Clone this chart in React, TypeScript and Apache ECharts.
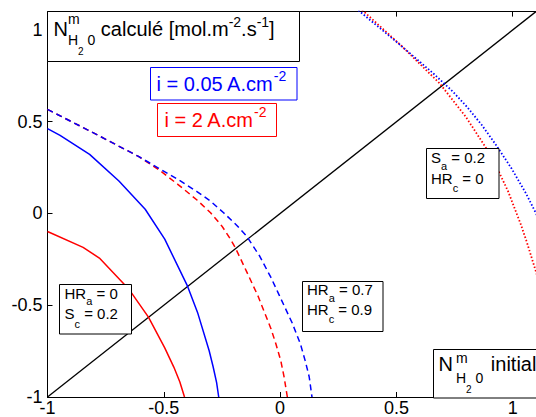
import React, { useEffect, useRef } from 'react';
import * as echarts from 'echarts';

// ---- axes ----
const X_MIN = -1;
const X_MAX = 1.1;
const Y_MIN = -1;
const Y_MAX = 1.1;
const TICK = 0.5;

// ---- series data (x, y) ----
const identityLine: number[][] = [[-1, -1], [1.1, 1.1]];

const blueSolid: number[][] = [
  [-1, 0.462], [-0.946, 0.426], [-0.819, 0.322], [-0.693, 0.177], [-0.58, 0.023],
  [-0.496, -0.14], [-0.398, -0.396], [-0.355, -0.539], [-0.305, -0.748], [-0.288, -0.835],
  [-0.273, -0.922], [-0.264, -1],
];
const redSolid: number[][] = [
  [-1, -0.098], [-0.847, -0.185], [-0.777, -0.243], [-0.651, -0.411], [-0.566, -0.565],
  [-0.496, -0.732], [-0.457, -0.837], [-0.431, -0.918], [-0.411, -1],
];
const blueDashed: number[][] = [
  [-1, 0.567], [-0.819, 0.45], [-0.609, 0.311], [-0.44, 0.186], [-0.356, 0.118], [-0.299, 0.067],
  [-0.243, 0.004], [-0.187, -0.064], [-0.145, -0.122], [-0.089, -0.23], [-0.039, -0.35],
  [-0.004, -0.445], [0.052, -0.597], [0.087, -0.71], [0.108, -0.803], [0.125, -0.89], [0.137, -1],
];
const redDashed: number[][] = [
  [-1, 0.567], [-0.819, 0.45], [-0.609, 0.311], [-0.524, 0.241], [-0.44, 0.159], [-0.356, 0.072],
  [-0.299, 0.004], [-0.25, -0.069], [-0.215, -0.137], [-0.194, -0.183], [-0.145, -0.314],
  [-0.095, -0.45], [-0.039, -0.629], [-0.018, -0.711], [0.003, -0.803], [0.017, -0.89], [0.031, -1],
];
const blueDotted: number[][] = [
  [0.302, 1.144], [0.344, 1.099], [0.509, 0.926], [0.656, 0.766], [0.741, 0.666], [0.804, 0.58],
  [0.867, 0.482], [0.93, 0.37], [0.994, 0.247], [1.057, 0.109], [1.099, 0.003], [1.12, -0.053],
];
const redDotted: number[][] = [
  [0.319, 1.148], [0.361, 1.099], [0.521, 0.914], [0.685, 0.71], [0.797, 0.529], [0.909, 0.311],
  [0.98, 0.121], [1.036, -0.064], [1.061, -0.158], [1.099, -0.314], [1.12, -0.406],
];

// ---- texts ----
const FONT = '"Liberation Sans", Arial, Helvetica, sans-serif';
type Piece = { t: string; s: number; dy?: number; keep?: boolean; gap?: number };

const titleParts: Piece[] = [
  { t: 'N', s: 20 }, { t: 'm', s: 14, dy: -12, keep: true }, { t: 'H', s: 14, dy: 9 },
  { t: '2', s: 10, dy: 19 }, { t: ' 0', s: 14, dy: 9 }, { t: ' calculé [mol.m', s: 20 },
  { t: '-2', s: 14, dy: -9 }, { t: '.s', s: 20 }, { t: '-1', s: 14, dy: -9 }, { t: ']', s: 20 },
];
const initialParts: Piece[] = [
  { t: 'N', s: 20, gap: 3 }, { t: 'm', s: 14, dy: -8.5, keep: true }, { t: 'H', s: 14, dy: 11.5 },
  { t: '2', s: 10, dy: 21.5 }, { t: ' 0', s: 14, dy: 11.5, gap: 2 }, { t: ' initial', s: 20 },
];
const legendBlue: Piece[] = [{ t: 'i = 0.05 A.cm', s: 20 }, { t: '-2', s: 14, dy: -10 }];
const legendRed: Piece[] = [{ t: 'i = 2 A.cm', s: 20 }, { t: '-2', s: 14, dy: -10 }];

const box1L1: Piece[] = [{ t: 'HR', s: 15 }, { t: 'a', s: 11, dy: 6.5 }, { t: ' = 0', s: 15 }];
const box1L2: Piece[] = [{ t: 'S', s: 15 }, { t: 'c', s: 11, dy: 9 }, { t: ' = 0.2', s: 15 }];
const box2L1: Piece[] = [{ t: 'HR', s: 15 }, { t: 'a', s: 11, dy: 7 }, { t: ' = 0.7', s: 15 }];
const box2L2: Piece[] = [{ t: 'HR', s: 15 }, { t: 'c', s: 11, dy: 8 }, { t: ' = 0.9', s: 15 }];
const box3L1: Piece[] = [{ t: 'S', s: 15 }, { t: 'a', s: 11, dy: 7.5 }, { t: ' = 0.2', s: 15 }];
const box3L2: Piece[] = [{ t: 'HR', s: 15 }, { t: 'c', s: 11, dy: 8 }, { t: ' = 0', s: 15 }];

let measureCtx: CanvasRenderingContext2D | null = null;
function measure(t: string, size: number): number {
  if (!measureCtx) measureCtx = document.createElement('canvas').getContext('2d');
  if (!measureCtx) return t.length * size * 0.55;
  measureCtx.font = `${size}px ${FONT}`;
  return measureCtx.measureText(t).width;
}

function line(x0: number, base: number, pieces: Piece[], color: string): any[] {
  const els: any[] = [];
  let x = x0;
  for (const p of pieces) {
    const y = base + (p.dy || 0) - 0.3465 * p.s;
    els.push({
      type: 'text', x, y, z: 20, silent: true,
      style: {
        text: p.t, font: `${p.s}px ${FONT}`, fill: color,
        textAlign: 'left', textVerticalAlign: 'middle', align: 'left', verticalAlign: 'middle',
      },
    });
    if (!p.keep) x += measure(p.t, p.s) + (p.gap || 0);
  }
  return els;
}

function box(x: number, y: number, w: number, h: number, stroke: string): any {
  return {
    type: 'rect', z: 10, silent: true,
    shape: { x, y, width: w, height: h },
    style: { fill: '#fff', stroke, lineWidth: 1 },
  };
}

export default function App() {
  const ref = useRef<HTMLDivElement>(null);
  useEffect(() => {
    if (!ref.current) return;
    const chart = echarts.init(ref.current, undefined, { renderer: 'svg' });
    const axisCommon = {
      type: 'value', min: X_MIN, max: X_MAX, interval: TICK,
      axisLine: { show: true, onZero: false, lineStyle: { color: '#000', width: 1 } },
      axisTick: { show: true, inside: true, length: 5, lineStyle: { color: '#000', width: 1 } },
      splitLine: { show: false },
    };
    const series = (data: number[][], color: string, type: any, width: number, z: number) => ({
      type: 'line', data, showSymbol: false, symbol: 'none', smooth: false,
      silent: true, z,
      lineStyle: { color, width, type, cap: 'butt', join: 'round' },
      emphasis: { disabled: true },
    });
    chart.setOption({
      animation: false,
      backgroundColor: '#fff',
      grid: { left: 47.5, top: 11.6, width: 498, height: 386.4, containLabel: false },
      xAxis: [
        {
          ...axisCommon, position: 'bottom',
          axisLabel: { color: '#000', fontSize: 18, fontFamily: FONT, margin: 2, showMaxLabel: false },
        },
        { ...axisCommon, position: 'top', axisLabel: { show: false } },
      ],
      yAxis: [
        {
          ...axisCommon, min: Y_MIN, max: Y_MAX, position: 'left',
          axisLabel: { color: '#000', fontSize: 18, fontFamily: FONT, margin: 5, showMaxLabel: false },
        },
      ],
      series: [
        series(identityLine, '#000', 'solid', 1.3, 2),
        series(redSolid, '#ff0000', 'solid', 1.5, 3),
        series(blueSolid, '#0000ff', 'solid', 1.5, 3),
        series(redDashed, '#ff0000', [6, 4], 1.5, 3),
        series(blueDashed, '#0000ff', [6, 4], 1.5, 3),
        series(redDotted, '#ff0000', [1.5, 2], 1.8, 3),
        series(blueDotted, '#0000ff', [1.5, 2], 1.8, 3),
      ],
      graphic: [
        box(47.5, 11.5, 252, 50, '#000'),
        ...line(53.5, 36, titleParts, '#000'),
        box(150.5, 67.5, 146.5, 32.5, '#0000ff'),
        ...line(156.5, 91, legendBlue, '#0000ff'),
        box(157.5, 103.5, 119, 33, '#ff0000'),
        ...line(164.5, 127, legendRed, '#ff0000'),
        box(59.5, 284.5, 72, 49.5, '#000'),
        ...line(64.5, 298.5, box1L1, '#000'),
        ...line(64.5, 318.5, box1L2, '#000'),
        box(302.5, 281.5, 80.5, 50, '#000'),
        ...line(307, 295, box2L1, '#000'),
        ...line(307, 315, box2L2, '#000'),
        box(426.5, 148.5, 72.5, 50, '#000'),
        ...line(431, 162.5, box3L1, '#000'),
        ...line(431, 183.5, box3L2, '#000'),
        box(433.5, 349.5, 120, 48.5, '#000'),
        ...line(438.5, 371, initialParts, '#000'),
      ],
    });
    return () => chart.dispose();
  }, []);
  return (
    <div
      ref={ref}
      style={{ position: 'absolute', left: 0, top: 0, width: 536, height: 417, background: '#fff' }}
    />
  );
}
